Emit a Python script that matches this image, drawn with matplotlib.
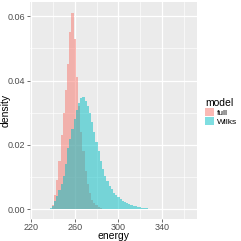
import matplotlib
matplotlib.use('Agg')
import matplotlib.pyplot as plt
import numpy as np

# histogram bins (width 2), centres in energy units
full_centers = list(range(240, 288, 2))
full_density = [0.0015, 0.0045, 0.009, 0.015, 0.023, 0.030, 0.037, 0.045,
                0.055, 0.061, 0.053, 0.041, 0.032, 0.024, 0.018, 0.012,
                0.008, 0.005, 0.003, 0.002, 0.0012, 0.0007, 0.0003, 0.0001]

wilks_centers = list(range(236, 366, 2))
wilks_density = [0.0001, 0.0003, 0.001, 0.0025, 0.004, 0.006, 0.008, 0.0105,
                 0.014, 0.019, 0.022, 0.025, 0.028, 0.031, 0.033, 0.0345,
                 0.035, 0.0335, 0.032, 0.030, 0.027, 0.024, 0.021, 0.018,
                 0.015, 0.0125, 0.0105, 0.0088, 0.0074, 0.0062, 0.0052, 0.0044,
                 0.0037, 0.0031, 0.0026, 0.0022, 0.0019, 0.0016, 0.0013, 0.0011,
                 0.0009, 0.0008, 0.0006, 0.0005, 0.0004, 0.0003, 0.00025, 0.0002,
                 0.00015, 0.00012, 0.0001, 0.00008, 0.00006, 0.00005, 0.00004, 0.00004,
                 0.00003, 0.00003, 0.00002, 0.00002, 0.00002, 0.00002, 0.00001, 0.00001,
                 0.00001]

models = ['full', 'Wilks']
colors = ['#F8766D', '#00BFC4']
binwidth = 2

plt.rcParams['font.family'] = ['Liberation Sans', 'DejaVu Sans']

def edges_of(centers):
    c = np.asarray(centers, dtype=float)
    return np.append(c - binwidth / 2, c[-1] + binwidth / 2)

W, H = 241, 241
fig = plt.figure(figsize=(W / 100, H / 100), dpi=100)
ax = fig.add_axes([30 / W, 1 - 219 / H, 167 / W, 217 / H])
ax.set_facecolor('#EBEBEB')

ax.stairs(full_density, edges_of(full_centers), fill=True, color=colors[0],
          alpha=0.5, linewidth=0, label=models[0], zorder=2)
ax.stairs(wilks_density, edges_of(wilks_centers), fill=True, color=colors[1],
          alpha=0.5, linewidth=0, label=models[1], zorder=3)

ax.set_xlim(219, 372)
ax.set_ylim(-0.003, 0.0644)
ax.set_xticks([220, 260, 300, 340])
ax.set_xticks([240, 280, 320, 360], minor=True)
ax.set_yticks([0.0, 0.02, 0.04, 0.06])
ax.set_yticks([0.01, 0.03, 0.05], minor=True)
ax.set_yticklabels(['0.00', '0.02', '0.04', '0.06'])

ax.grid(which='major', color='white', linewidth=0.9, zorder=0)
ax.grid(which='minor', color='white', linewidth=0.45, zorder=0)
ax.set_axisbelow(True)
for s in ax.spines.values():
    s.set_visible(False)

ax.tick_params(which='major', length=2, width=0.5, color='#333333',
               labelcolor='#4D4D4D', labelsize=6.5, pad=1.2)
ax.tick_params(which='minor', length=0)

ax.set_xlabel('energy', fontsize=7.5, labelpad=-1)
ax.set_ylabel('density', fontsize=7.5, labelpad=-2)

leg = ax.legend(title='model', loc='upper left', bbox_to_anchor=(1.03, 0.575),
                frameon=False, fontsize=6, title_fontsize=7.5,
                handlelength=1.0, handleheight=1.1, handletextpad=0.4,
                labelspacing=0.05, borderaxespad=0, alignment='left')

fig.savefig('out.png', dpi=100)
